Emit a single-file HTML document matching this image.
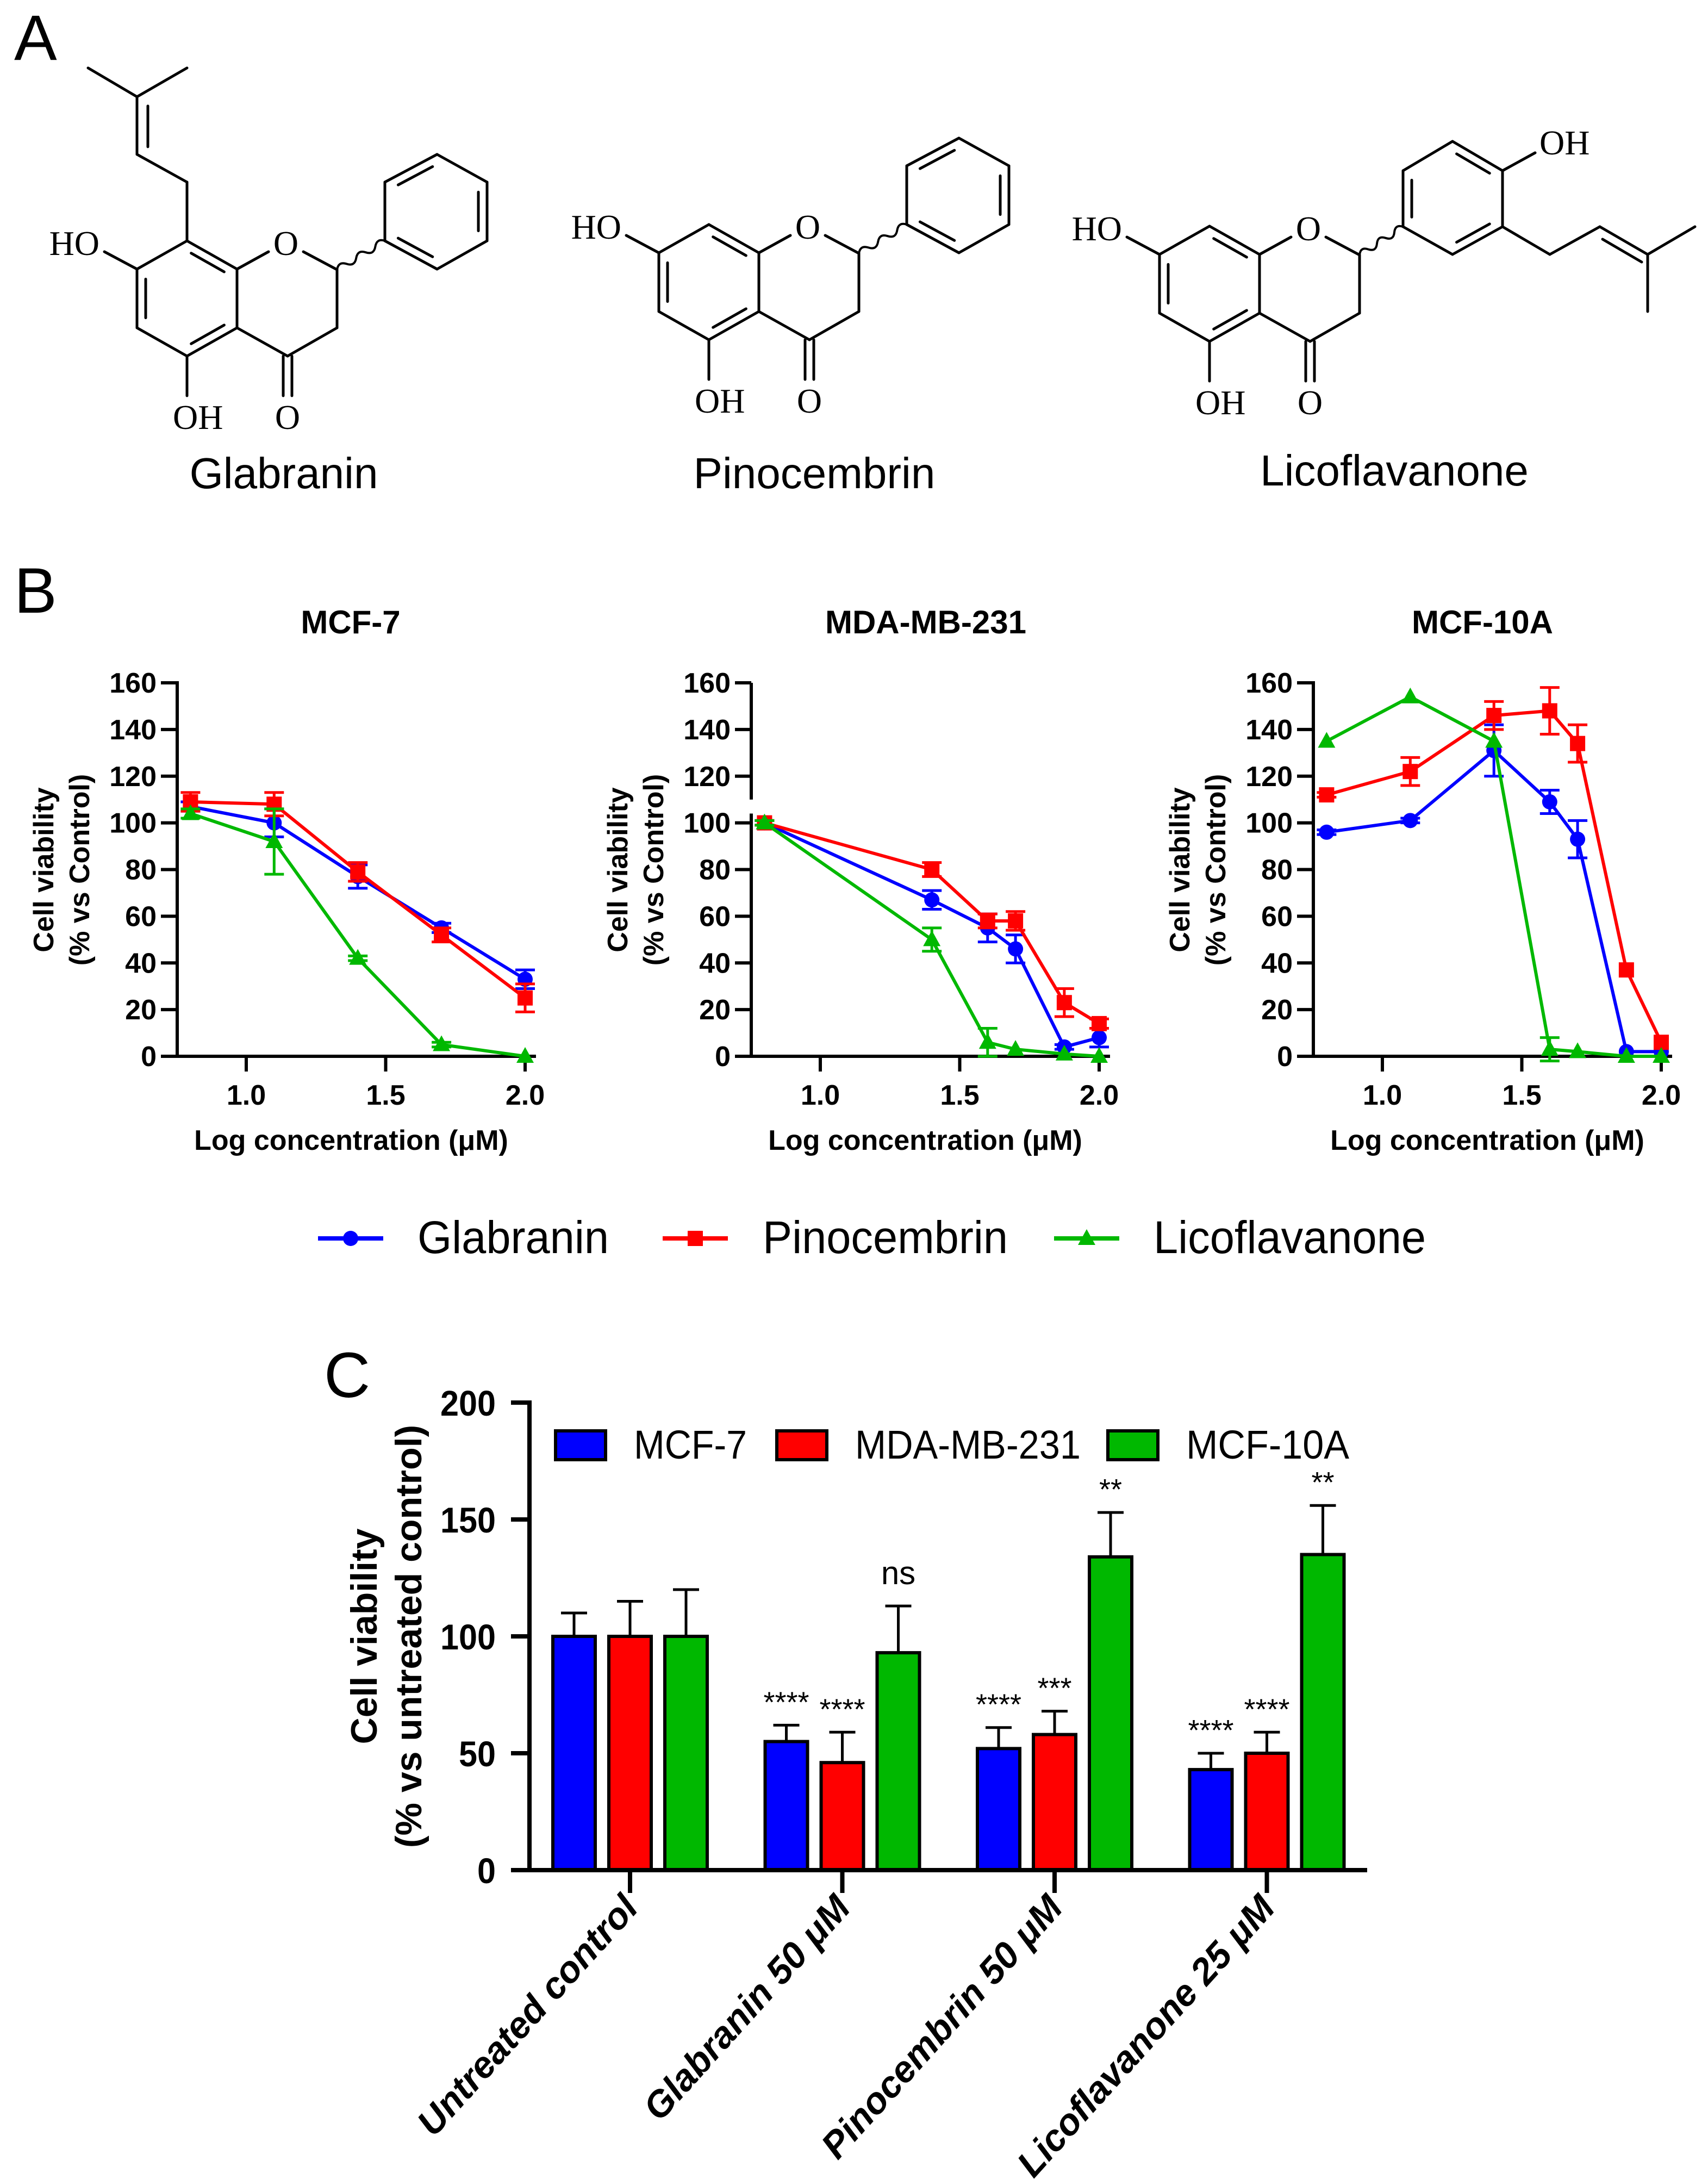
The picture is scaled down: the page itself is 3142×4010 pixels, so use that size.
<!DOCTYPE html>
<html><head><meta charset="utf-8"><style>
html,body{margin:0;padding:0;background:#fff}
svg{display:block}
text{font-family:"Liberation Sans",Arial,sans-serif}
.ser{font-family:"Liberation Serif",serif}
</style></head><body>
<svg id="fig" xmlns="http://www.w3.org/2000/svg" width="3142" height="4010" viewBox="0 0 3142 4010">
<rect width="3142" height="4010" fill="#fff"/>
<g id="panelA"></g>
<g id="panelB"></g>
<g id="panelC"></g>
</svg>
<script>
// ===== Panel B data =====
const bLogX1 = [0.8, 1.1, 1.4, 1.7, 2.0];
const bLogX2 = [0.8, 1.4, 1.6, 1.7, 1.875, 2.0];
const bLogX3 = [0.8, 1.1, 1.4, 1.6, 1.7, 1.875, 2.0];
const mcf7Glab = [107, 100, 77, 55, 33];
const mcf7GlabErr = [2, 6, 5, 2, 4];
const mcf7Pino = [109, 108, 79, 52, 25];
const mcf7PinoErr = [4, 5, 4, 3, 6];
const mcf7Lico = [104, 92, 42, 5, 0];
const mcf7LicoErr = [2, 14, 1, 1, 0];
const mdaGlab = [100, 67, 55, 46, 4, 8];
const mdaGlabErr = [1, 4, 6, 6, 1, 4];
const mdaPino = [100, 80, 58, 58, 23, 14];
const mdaPinoErr = [1, 3, 3, 4, 6, 2];
const mdaLico = [100, 50, 6, 3, 1, 0];
const mdaLicoErr = [1, 5, 6, 0, 0, 0];
const m10aGlab = [96, 101, 131, 109, 93, 2, 2];
const m10aGlabErr = [1, 1, 11, 5, 8, 0, 0];
const m10aPino = [112, 122, 146, 148, 134, 37, 6];
const m10aPinoErr = [1, 6, 6, 10, 8, 0, 0];
const m10aLico = [135, 154, 135, 3, 2, 0, 0];
const m10aLicoErr = [0, 0, 0, 5, 0, 0, 0];
const bYTicks = [0, 20, 40, 60, 80, 100, 120, 140, 160];
const bXTicks = ["1.0", "1.5", "2.0"];
const bSeriesNames = ["Glabranin", "Pinocembrin", "Licoflavanone"];
// ===== Panel C data =====
const cGroups = ["Untreated control", "Glabranin 50 μM", "Pinocembrin 50 μM", "Licoflavanone 25 μM"];
const cSeries = ["MCF-7", "MDA-MB-231", "MCF-10A"];
const cMcf7 = [100, 55, 52, 43];
const cMcf7Err = [10, 7, 9, 7];
const cMda = [100, 46, 58, 50];
const cMdaErr = [15, 13, 10, 9];
const cM10a = [100, 93, 134, 135];
const cM10aErr = [20, 20, 19, 21];
const cSigMcf7 = ["", "****", "****", "****"];
const cSigMda = ["", "****", "***", "****"];
const cSigM10a = ["", "ns", "**", "**"];
const cYTicks = [0, 50, 100, 150, 200];

const NS = "http://www.w3.org/2000/svg";
function mk(tag, attrs, parent, txt) {
  const e = document.createElementNS(NS, tag);
  for (const k in attrs) e.setAttribute(k, attrs[k]);
  if (txt !== undefined) e.textContent = txt;
  parent.appendChild(e);
  return e;
}
const COL = ["#0000ff", "#ff0000", "#00b800"];

// ===== Panel A: structures =====
const A = document.getElementById("panelA");
let t = mk("text", {x: 26, y: 110, "font-size": 118}, A, "A");



function ln(g, x1, y1, x2, y2) {
  mk("line", {x1, y1, x2, y2, stroke: "#000", "stroke-width": 5, "stroke-linecap": "round"}, g);
}
function inner(g, p, q, c) {
  const mx = (p[0] + q[0]) / 2, my = (p[1] + q[1]) / 2;
  let dx = c[0] - mx, dy = c[1] - my; const d = Math.hypot(dx, dy);
  dx = dx / d * 16; dy = dy / d * 16;
  const s = 0.17;
  ln(g, p[0] + (q[0] - p[0]) * s + dx, p[1] + (q[1] - p[1]) * s + dy, q[0] - (q[0] - p[0]) * s + dx, q[1] - (q[1] - p[1]) * s + dy);
}
function ring(g, P, inn) {
  const c = [P.reduce((a, p) => a + p[0], 0) / 6, P.reduce((a, p) => a + p[1], 0) / 6];
  for (let i = 0; i < 6; i++) ln(g, P[i][0], P[i][1], P[(i + 1) % 6][0], P[(i + 1) % 6][1]);
  inn.forEach(i => inner(g, P[i], P[(i + 1) % 6], c));
}
function wavy(g, x1, y1, x2, y2) {
  const n = 5, L = Math.hypot(x2 - x1, y2 - y1), ux = (x2 - x1) / L, uy = (y2 - y1) / L;
  let d = `M${x1},${y1}`;
  for (let i = 0; i < n; i++) {
    const a = L * (i + 0.5) / n, b = L * (i + 1) / n, s = (i % 2 ? 1 : -1) * 12;
    d += ` Q${x1 + ux * a - uy * s},${y1 + uy * a + ux * s} ${x1 + ux * b},${y1 + uy * b}`;
  }
  mk("path", {d, fill: "none", stroke: "#000", "stroke-width": 4}, g);
}
function tx(g, x, y, s, anchor) {
  mk("text", {x, y, "font-size": 64, class: "ser", "text-anchor": anchor || "start"}, g, s);
}
function core(g, ox, oy, phenylEnd) {
  const p = (x, y) => [x + ox, y + oy];
  const R = [p(344, 443), p(436, 495), p(436, 603), p(344, 655), p(252, 603), p(252, 495)];
  ring(g, R, [0, 2, 4]);
  ln(g, ...p(436, 495), ...p(494, 463));
  tx(g, ...p(526, 469), "O", "middle");
  ln(g, ...p(558, 463), ...p(620, 496));
  ln(g, ...p(620, 496), ...p(620, 603));
  ln(g, ...p(620, 603), ...p(529, 655));
  ln(g, ...p(529, 655), ...p(436, 603));
  ln(g, ...p(521, 655), ...p(521, 728));
  ln(g, ...p(537, 655), ...p(537, 728));
  tx(g, ...p(529, 789), "O", "middle");
  ln(g, ...p(252, 495), ...p(192, 463));
  tx(g, ...p(183, 469), "HO", "end");
  ln(g, ...p(344, 655), ...p(344, 728));
  tx(g, ...p(318, 789), "OH");
  wavy(g, ...p(620, 496), phenylEnd[0], phenylEnd[1]);
}
// Glabranin
let g1 = mk("g", {}, A);


core(g1, 0, 0, [708, 443]);
ln(g1, 344, 443, 344, 335); ln(g1, 344, 335, 252, 284); ln(g1, 252, 284, 252, 178);
ln(g1, 272, 270, 272, 195); ln(g1, 252, 178, 162, 125); ln(g1, 252, 178, 344, 125);
ring(g1, [[708, 443], [708, 335], [804, 284], [896, 335], [896, 443], [804, 495]], [1, 3, 5]);
t = mk("text", {x: 522, y: 898, "font-size": 80, "text-anchor": "middle"}, g1, "Glabranin");


// Pinocembrin
let g2 = mk("g", {}, A);


core(g2, 960, -30, [708 + 960, 443 - 30]);
ring(g2, [[1668, 413], [1668, 305], [1764, 254], [1856, 305], [1856, 413], [1764, 465]], [1, 3, 5]);
t = mk("text", {x: 1498, y: 898, "font-size": 80, "text-anchor": "middle"}, g2, "Pinocembrin");


// Licoflavanone
let g3 = mk("g", {}, A);


core(g3, 1881, -27, [2581, 417]);
ring(g3, [[2581, 417], [2581, 314], [2672, 260], [2764, 314], [2764, 417], [2672, 468]], [0, 2, 4]);
ln(g3, 2764, 314, 2824, 281); tx(g3, 2832, 284, "OH");
ln(g3, 2764, 417, 2851, 468); ln(g3, 2851, 468, 2943, 417); ln(g3, 2943, 417, 3031, 468);
ln(g3, 2948, 440, 3020, 482);
ln(g3, 3031, 468, 3118, 417); ln(g3, 3031, 468, 3031, 573);
t = mk("text", {x: 2565, y: 893, "font-size": 80, "text-anchor": "middle"}, g3, "Licoflavanone");



// ===== Panel B =====
const B = document.getElementById("panelB");
t = mk("text", {x: 26, y: 1127, "font-size": 118}, B, "B");



function marker(g, kind, x, y, c) {
  let m;
  if (kind === 0) m = mk("circle", {cx: x, cy: y, r: 14, fill: c}, g);
  else if (kind === 1) m = mk("rect", {x: x - 14, y: y - 14, width: 28, height: 28, fill: c}, g);
  else m = mk("polygon", {points: `${x},${y - 17} ${x + 16},${y + 12} ${x - 16},${y + 12}`, fill: c}, g);
  return m;
}
function lineChart(ax, title, titleX, xs, series, errs, breakAxis, key) {
  const g = mk("g", {}, B);
  
  
  const yS = v => 1943 - v * 687 / 160;
  const xS = l => ax + 127 + (l - 1) * 513;
  t = mk("text", {x: titleX, y: 1165, "font-size": 60, "font-weight": "bold", "text-anchor": "middle"}, g, title);
  
  
  if (breakAxis) {
    mk("line", {x1: ax, y1: yS(160), x2: ax, y2: yS(110), stroke: "#000", "stroke-width": 6}, g);
    mk("line", {x1: ax, y1: yS(104), x2: ax, y2: yS(0), stroke: "#000", "stroke-width": 6}, g);
  } else mk("line", {x1: ax, y1: yS(160) - 3, x2: ax, y2: yS(0), stroke: "#000", "stroke-width": 6}, g);
  bYTicks.forEach(v => {
    mk("line", {x1: ax - 30, y1: yS(v), x2: ax, y2: yS(v), stroke: "#000", "stroke-width": 6}, g);
    const tl = mk("text", {x: ax - 38, y: yS(v) + 18, "font-size": 52, "font-weight": "bold", "text-anchor": "end"}, g, String(v));
    
    
  });
  mk("line", {x1: ax - 30, y1: yS(0), x2: ax + 660, y2: yS(0), stroke: "#000", "stroke-width": 6}, g);
  bXTicks.forEach(s => {
    const v = parseFloat(s);
    mk("line", {x1: xS(v), y1: yS(0), x2: xS(v), y2: yS(0) + 28, stroke: "#000", "stroke-width": 6}, g);
    const tl = mk("text", {x: xS(v), y: 2032, "font-size": 52, "font-weight": "bold", "text-anchor": "middle"}, g, s);
    
    
  });
  t = mk("text", {x: ax + 320, y: 2115, "font-size": 52, "font-weight": "bold", "text-anchor": "middle"}, g, "Log concentration (μM)");
  
  
  const yt = mk("text", {transform: `translate(${ax - 228},1600) rotate(-90)`, "font-size": 52, "font-weight": "bold", "text-anchor": "middle"}, g);
  
  
  mk("tspan", {x: 0, y: 0}, yt, "Cell viability");
  mk("tspan", {x: 0, y: 66}, yt, "(% vs Control)");
  series.forEach((vals, si) => {
    const c = COL[si];
    const sg = mk("g", {}, g);
    
    
    const pts = vals.map((v, i) => `${xS(xs[i])},${yS(v)}`).join(" ");
    mk("polyline", {points: pts, fill: "none", stroke: c, "stroke-width": 6, "stroke-linejoin": "round"}, sg);
    vals.forEach((v, i) => {
      const e = errs[si][i];
      if (e > 0) {
        const x = xS(xs[i]);
        mk("line", {x1: x, y1: yS(v + e), x2: x, y2: yS(v - e), stroke: c, "stroke-width": 5}, sg);
        mk("line", {x1: x - 18, y1: yS(v + e), x2: x + 18, y2: yS(v + e), stroke: c, "stroke-width": 5}, sg);
        mk("line", {x1: x - 18, y1: yS(v - e), x2: x + 18, y2: yS(v - e), stroke: c, "stroke-width": 5}, sg);
      }
      const m = marker(sg, si, xS(xs[i]), yS(v), c);
      
      
    });
  });
}
lineChart(326, "MCF-7", 645, bLogX1, [mcf7Glab, mcf7Pino, mcf7Lico], [mcf7GlabErr, mcf7PinoErr, mcf7LicoErr], false, "mcf7");
lineChart(1382, "MDA-MB-231", 1703, bLogX2, [mdaGlab, mdaPino, mdaLico], [mdaGlabErr, mdaPinoErr, mdaLicoErr], true, "mda");
lineChart(2416, "MCF-10A", 2727, bLogX3, [m10aGlab, m10aPino, m10aLico], [m10aGlabErr, m10aPinoErr, m10aLicoErr], false, "mcf10a");

// Legend B
const lgB = mk("g", {}, B);


const lgX = [585, 1219, 1939], lgT = [768, 1403, 2122], lgW = [352, 451, 501];
bSeriesNames.forEach((n, i) => {
  const eg = mk("g", {}, lgB);
  
  
  mk("line", {x1: lgX[i], y1: 2278, x2: lgX[i] + 120, y2: 2278, stroke: COL[i], "stroke-width": 8}, eg);
  marker(eg, i, lgX[i] + 60, 2278, COL[i]);
  mk("text", {x: lgT[i], y: 2305, "font-size": 84, textLength: lgW[i], lengthAdjust: "spacingAndGlyphs"}, eg, n);
});

// ===== Panel C =====
const C = document.getElementById("panelC");
t = mk("text", {x: 596, y: 2570, "font-size": 118}, C, "C");


const yC = v => 3440 - v * 4.3;
const gx = i => 1159 + i * 390.5;
const gC = mk("g", {}, C);


const cVals = [cMcf7, cMda, cM10a], cErrs = [cMcf7Err, cMdaErr, cM10aErr], cSigs = [cSigMcf7, cSigMda, cSigM10a];
cGroups.forEach((gn, i) => {
  cVals.forEach((arr, j) => {
    const v = arr[i], e = cErrs[j][i], cx = gx(i) + (j - 1) * 103;
    mk("line", {x1: cx, y1: yC(v), x2: cx, y2: yC(v + e), stroke: "#000", "stroke-width": 5}, gC);
    mk("line", {x1: cx - 24, y1: yC(v + e), x2: cx + 24, y2: yC(v + e), stroke: "#000", "stroke-width": 5}, gC);
    const r = mk("rect", {x: cx - 39, y: yC(v), width: 78, height: yC(0) - yC(v), fill: COL[j], stroke: "#000", "stroke-width": 6}, gC);
    
    
    const s = cSigs[j][i];
    if (s) {
      const big = s === "ns";
      const st = mk("text", {x: cx, y: yC(v + e) - (big ? 40 : 24), "font-size": big ? 60 : 54, "text-anchor": "middle"}, gC, s);
      
      
    }
  });
  mk("line", {x1: gx(i), y1: 3440, x2: gx(i), y2: 3482, stroke: "#000", "stroke-width": 8}, gC);
  const xl = mk("text", {transform: `translate(${gx(i) + 18},3512) rotate(-48)`, "font-size": 68, "font-weight": "bold", "font-style": "italic", "text-anchor": "end"}, gC, gn);
  
  
});
mk("line", {x1: 974, y1: yC(200) - 4, x2: 974, y2: 3444, stroke: "#000", "stroke-width": 8}, gC);
mk("line", {x1: 970, y1: 3440, x2: 2515, y2: 3440, stroke: "#000", "stroke-width": 8}, gC);
cYTicks.forEach(v => {
  mk("line", {x1: 940, y1: yC(v), x2: 974, y2: yC(v), stroke: "#000", "stroke-width": 8}, gC);
  const s = String(v);
  const tl = mk("text", {x: 912, y: yC(v) + 24, "font-size": 66, "font-weight": "bold", "text-anchor": "end", textLength: s.length * 34, lengthAdjust: "spacingAndGlyphs"}, gC, s);
  
  
});
const yct = mk("text", {transform: "translate(693,3010) rotate(-90)", "font-size": 68, "font-weight": "bold", "text-anchor": "middle"}, gC);


mk("tspan", {x: 0, y: 0}, yct, "Cell viability");
mk("tspan", {x: 0, y: 82}, yct, "(% vs untreated control)");
// Legend C
const lgC = mk("g", {}, C);


const lcBox = [1022, 1429, 2038], lcTxt = [1166, 1573, 2182], lcW = [208, 415, 300];
cSeries.forEach((n, j) => {
  const eg = mk("g", {}, lgC);
  
  
  mk("rect", {x: lcBox[j], y: 2632, width: 92, height: 53, fill: COL[j], stroke: "#000", "stroke-width": 6}, eg);
  mk("text", {x: lcTxt[j], y: 2683, "font-size": 74, textLength: lcW[j], lengthAdjust: "spacingAndGlyphs"}, eg, n);
});
</script>
</body></html>
